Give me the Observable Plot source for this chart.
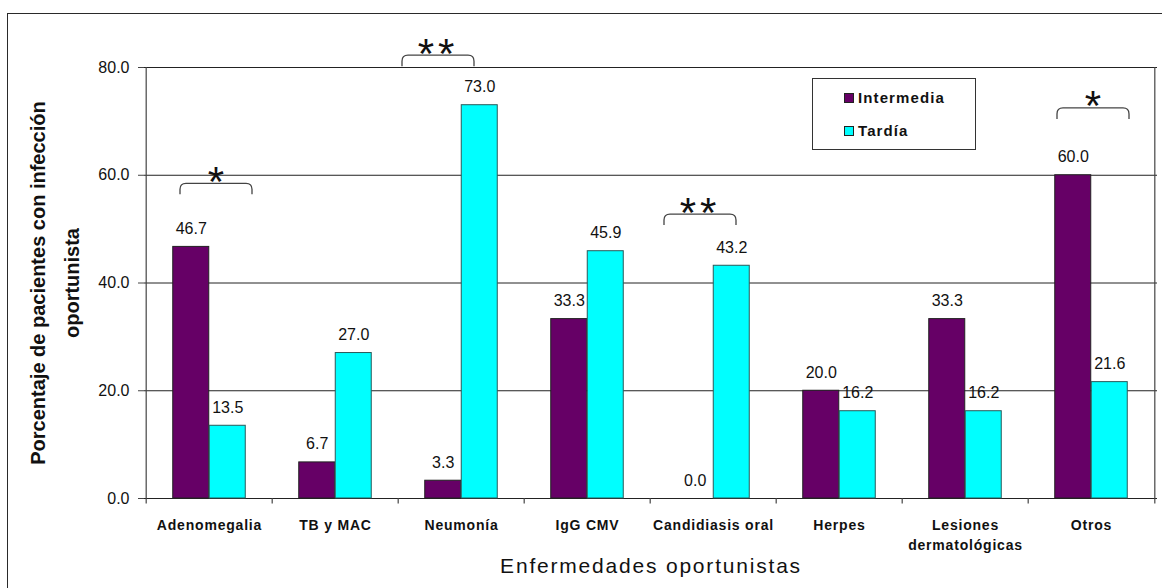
<!DOCTYPE html>
<html>
<head>
<meta charset="utf-8">
<script src="https://cdn.jsdelivr.net/npm/d3@7"></script>
<script src="https://cdn.jsdelivr.net/npm/@observablehq/plot@0.6"></script>
<style>
  html, body { margin: 0; padding: 0; background: #fff; }
  body { font-family: "Liberation Sans", Arial, sans-serif; }
  #wrap { position: relative; width: 1162px; height: 588px; overflow: hidden; background: #fff; }
  #frame { position: absolute; left: 7px; top: 13px; width: 1180px; height: 620px; border: 1.5px solid #2a2a2a; box-sizing: border-box; pointer-events: none; }
  #chart { position: absolute; left: 0; top: 0; }
  #legend { position: absolute; left: 812px; top: 78px; width: 164px; height: 72px; border: 1.3px solid #333; box-sizing: border-box; background: #fff; }
  #legend .item { position: absolute; left: 31px; display: flex; align-items: center; font-size: 15px; font-weight: bold; letter-spacing: 1.1px; color: #111; }
  #legend .sw { width: 10px; height: 10px; border: 1px solid #222; box-sizing: border-box; margin-right: 4px; }
  g[aria-label="x-axis tick label"] text { letter-spacing: 0.8px; }
</style>
</head>
<body>
<div id="wrap">
  <div id="chart"></div>
  <div id="legend"></div>
  <div id="frame"></div>
</div>
<script>
// ---- data ----
const categories = ["Adenomegalia", "TB y MAC", "Neumonía", "IgG CMV", "Candidiasis oral", "Herpes", "Lesiones\ndermatológicas", "Otros"];
const seriesNames = ["Intermedia", "Tardía"];
const intermedia = [46.7, 6.7, 3.3, 33.3, 0.0, 20.0, 33.3, 60.0];
const tardia = [13.5, 27.0, 73.0, 45.9, 43.2, 16.2, 16.2, 21.6];
const yTicks = [0, 20, 40, 60, 80];
const seriesColors = ["#660066", "#00ffff"];
// significance annotations
const sigCategories = ["Adenomegalia", "Neumonía", "Candidiasis oral", "Otros"];
const sigMarks = ["*", "**", "**", "*"];
const sigLevels = [58.4, 82.2, 52.7, 72.4];
const xTitle = "Enfermedades oportunistas";
const yTitle = "Porcentaje de pacientes con infección\noportunista";

// ---- layout / style ----
const W = 1162, H = 588, ML = 144, MR = 5, MT = 67, MB = 90;
const step = (W - ML - MR) / categories.length;
const barFrac = 0.2883;
const barW = step * barFrac;
const sigShift = [7, -23, -13, 2];

const rowsI = categories.map((c, i) => ({cat: c, s: seriesNames[0], v: intermedia[i]}));
const rowsT = categories.map((c, i) => ({cat: c, s: seriesNames[1], v: tardia[i]}));

function annotations(index, scales) {
  const x = scales.x, y = scales.y;
  const bw = x.bandwidth ? x.bandwidth() : 0;
  const g = d3.create("svg:g").attr("aria-label", "significance");
  sigCategories.forEach((c, i) => {
    const cx = x(c) + bw / 2 + sigShift[i];
    const top = y(sigLevels[i]);
    const half = bw; // bracket spans both bars
    const r = 6, h = 11;
    const p = d3.path();
    p.moveTo(cx - half, top + h);
    p.lineTo(cx - half, top + r);
    p.quadraticCurveTo(cx - half, top, cx - half + r, top);
    p.lineTo(cx + half - r, top);
    p.quadraticCurveTo(cx + half, top, cx + half, top + r);
    p.lineTo(cx + half, top + h);
    g.append("path").attr("d", p.toString()).attr("fill", "none").attr("stroke", "#444").attr("stroke-width", 1.3);
    g.append("text")
      .attr("x", cx).attr("y", top - 1)
      .attr("dy", "0.32em")
      .attr("text-anchor", "middle")
      .attr("font-size", 42)
      .attr("letter-spacing", sigMarks[i].length > 1 ? "4px" : "0px")
      .attr("fill", "#111")
      .text(sigMarks[i]);
  });
  return g.node();
}

const plot = Plot.plot({
  width: W, height: H,
  marginLeft: ML, marginRight: MR, marginTop: MT, marginBottom: MB,
  style: {fontFamily: "'Liberation Sans', Arial, sans-serif", background: "transparent", overflow: "visible", color: "#111"},
  x: {domain: categories, paddingInner: 1 - barFrac, paddingOuter: (1 - barFrac) / 2, axis: null},
  y: {domain: [0, 80], axis: null},
  marks: [
    Plot.ruleY(yTicks, {stroke: "#222", strokeWidth: 1}),
    Plot.axisY({ticks: yTicks, tickFormat: d => d.toFixed(1), tickSize: 6, tickPadding: 9, fontSize: 16, label: null, stroke: "#444"}),
    Plot.axisX({tickSize: 0, tickPadding: 17, fontSize: 14, fontWeight: "bold", label: null, lineHeight: 1.43}),
    Plot.ruleX(categories, {x: d => d, dx: -step / 2, y1: -1, y2: (d, i) => i === 0 ? 80 : 0, stroke: "#444", strokeWidth: 1.2}),
    Plot.ruleX([categories[categories.length - 1]], {x: d => d, dx: step / 2, y1: -1, y2: 80, stroke: "#444", strokeWidth: 1.2}),
    Plot.barY(rowsI, {x: "cat", y: "v", dx: -barW / 2, fill: seriesColors[0], stroke: "#222", strokeWidth: 1}),
    Plot.barY(rowsT, {x: "cat", y: "v", dx: barW / 2, fill: seriesColors[1], stroke: "#2b5959", strokeWidth: 1}),
    Plot.text(rowsI, {x: "cat", y: "v", text: d => d.v.toFixed(1), dx: -barW / 2, dy: -13, lineAnchor: "bottom", fontSize: 16, fill: "#111"}),
    Plot.text(rowsT, {x: "cat", y: "v", text: d => d.v.toFixed(1), dx: barW / 2, dy: -13, lineAnchor: "bottom", fontSize: 16, fill: "#111"}),
    Plot.text([xTitle], {frameAnchor: "bottom", text: d => d, dy: 74, lineAnchor: "bottom", textAnchor: "middle", fontSize: 21, fill: "#111"}),
    Plot.text([yTitle], {frameAnchor: "left", text: d => d, rotate: -90, dx: -93, textAnchor: "middle", lineAnchor: "middle", lineHeight: 1.7, fontSize: 20, fontWeight: "bold", fill: "#111"}),
    annotations
  ]
});
d3.select(plot).selectAll("text")
  .filter(function () { return this.textContent === xTitle; })
  .style("letter-spacing", "1.8px");
document.getElementById("chart").appendChild(plot);

// legend
const legend = document.getElementById("legend");
const legendTops = [10, 43];
seriesNames.forEach((s, i) => {
  const item = document.createElement("div");
  item.className = "item";
  item.style.top = legendTops[i] + "px";
  const sw = document.createElement("span");
  sw.className = "sw";
  sw.style.background = seriesColors[i];
  const t = document.createElement("span");
  t.textContent = s;
  item.appendChild(sw); item.appendChild(t);
  legend.appendChild(item);
});
</script>
</body>
</html>
